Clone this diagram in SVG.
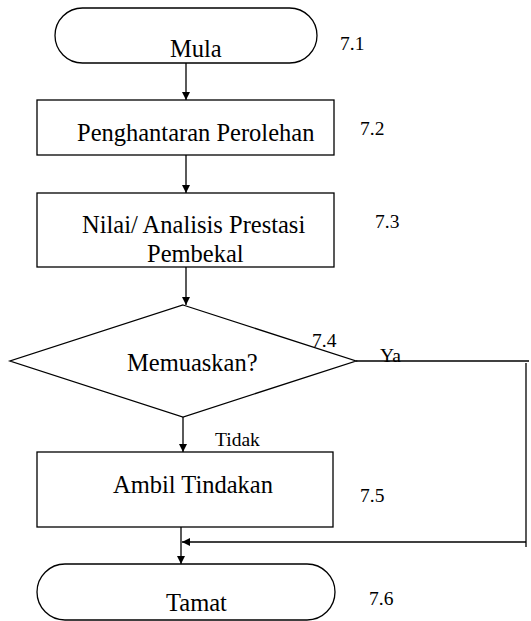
<svg xmlns="http://www.w3.org/2000/svg" width="531" height="621" viewBox="0 0 531 621">
<style>
.shape{fill:#fff;stroke:#000;stroke-width:1.3}
.main{font-family:"Liberation Serif","Times New Roman",serif;font-size:24.5px;fill:#000}
.lbl{font-family:"Liberation Serif","Times New Roman",serif;font-size:19.5px;fill:#000}
.conn{fill:none;stroke:#000;stroke-width:1.3}
</style>
<defs>
<marker id="ah" viewBox="0 0 10 10" refX="10" refY="5" markerWidth="8" markerHeight="8" markerUnits="userSpaceOnUse" orient="auto">
<path d="M0,0 L10,5 L0,10 z" fill="#000"/>
</marker>
</defs>
<rect width="531" height="621" fill="#fff"/>
<g id="connectors">
<line class="conn" x1="186" y1="63" x2="186" y2="100" marker-end="url(#ah)"/>
<line class="conn" x1="186" y1="155" x2="186" y2="193" marker-end="url(#ah)"/>
<line class="conn" x1="186" y1="267" x2="186" y2="305" marker-end="url(#ah)"/>
<line class="conn" x1="183" y1="417" x2="183" y2="452" stroke-width="2" marker-end="url(#ah)"/>
<line class="conn" x1="181" y1="527" x2="181" y2="564" marker-end="url(#ah)"/>
<polyline class="conn" points="356,361 529,361"/>
<polyline class="conn" points="526,363 526,547"/>
<line class="conn" x1="526" y1="542" x2="182" y2="542" marker-end="url(#ah)"/>
<text class="lbl" x="380" y="362">Ya</text>
<text class="lbl" x="215" y="446">Tidak</text>
</g>
<g id="n71">
<rect class="shape" x="55" y="8" width="262" height="55" rx="27.5" ry="27.5"/>
<text class="main" x="170" y="57">Mula</text>
<text class="lbl" x="340" y="50">7.1</text>
</g>
<g id="n72">
<rect class="shape" x="37" y="100" width="297" height="55"/>
<text class="main" x="77" y="141">Penghantaran Perolehan</text>
<text class="lbl" x="360" y="135">7.2</text>
</g>
<g id="n73">
<rect class="shape" x="37" y="193" width="297" height="74"/>
<text class="main" x="82" y="233">Nilai/ Analisis Prestasi</text>
<text class="main" x="147" y="262">Pembekal</text>
<text class="lbl" x="375" y="228">7.3</text>
</g>
<g id="n74">
<polygon class="shape" points="183,305 356,361 183,417 10,361"/>
<text class="main" x="127" y="371">Memuaskan?</text>
<text class="lbl" x="312" y="347">7.4</text>
</g>
<g id="n75">
<rect class="shape" x="37" y="452" width="296" height="75"/>
<text class="main" x="113" y="493">Ambil Tindakan</text>
<text class="lbl" x="360" y="502">7.5</text>
</g>
<g id="n76">
<rect class="shape" x="37" y="564" width="298" height="56" rx="28" ry="28"/>
<text class="main" x="166" y="611">Tamat</text>
<text class="lbl" x="369" y="605">7.6</text>
</g>
</svg>
